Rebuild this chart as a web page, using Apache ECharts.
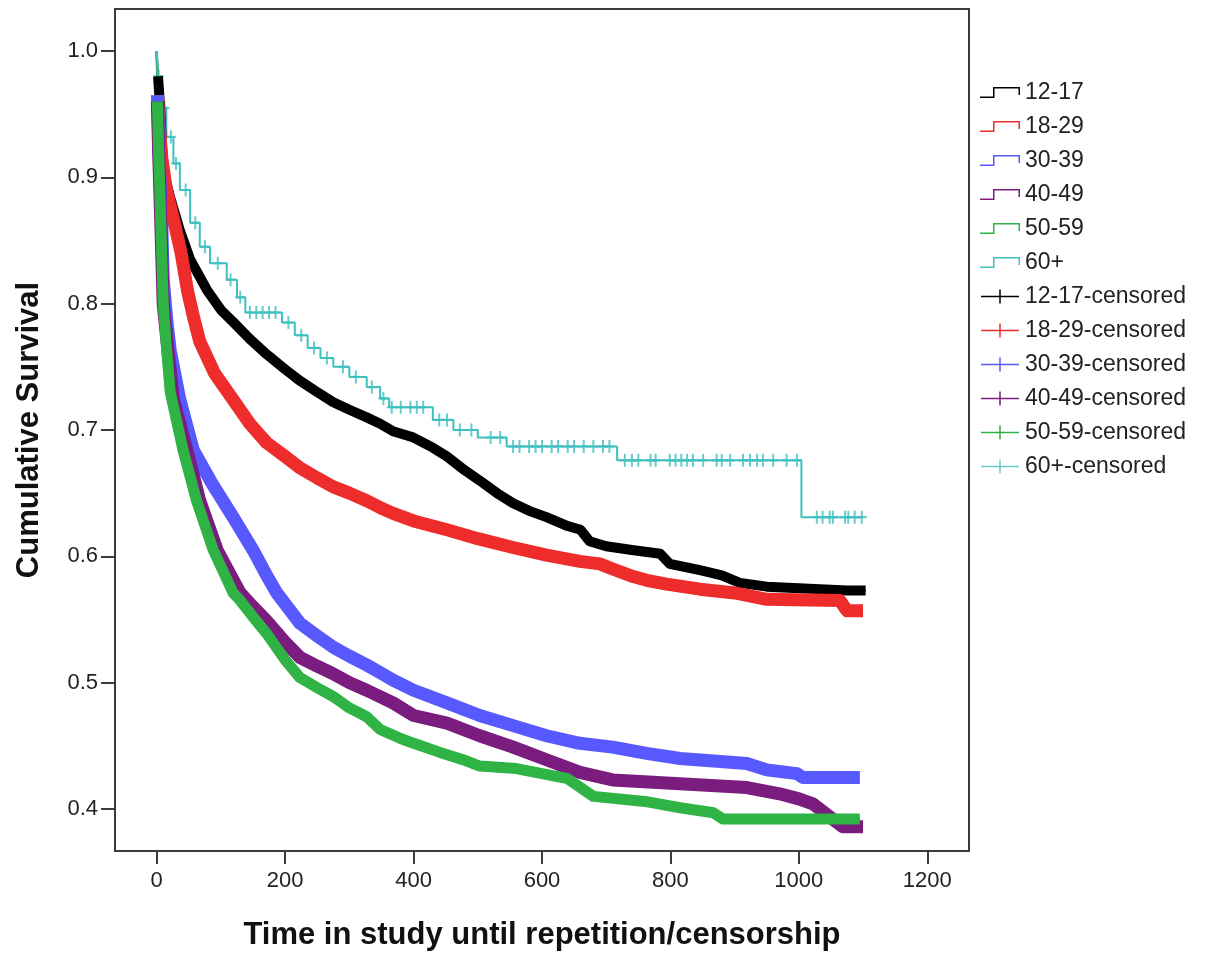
<!DOCTYPE html>
<html>
<head>
<meta charset="utf-8">
<title>Cumulative Survival</title>
<script src="https://cdn.jsdelivr.net/npm/echarts@6/dist/echarts.min.js"></script>
<style>
  html, body { margin: 0; padding: 0; background: #fff; }
  #main { width: 1206px; height: 956px; }
</style>
</head>
<body>
<div id="main"></div>
<script>
// age groups and their colours
const groups = ['12-17', '18-29', '30-39', '40-49', '50-59', '60+'];
const colors = ['#000000', '#ef2c2c', '#5858ff', '#7a1d7e', '#2fb344', '#40bfbf'];

// Kaplan-Meier curves, [time, survival]
const km1217 = [[0,1.0],[2,0.98],[6,0.95],[10,0.905],[21,0.884],[36,0.858],[52,0.835],[78,0.811],[100,0.795],[120,0.785],[145,0.772],[171,0.76],[200,0.748],[223,0.739],[250,0.73],[275,0.722],[300,0.716],[327,0.71],[348,0.705],[368,0.699],[400,0.694],[430,0.686],[452,0.679],[480,0.668],[503,0.66],[530,0.65],[555,0.642],[580,0.636],[607,0.631],[640,0.624],[660,0.621],[674,0.612],[700,0.608],[740,0.605],[784,0.602],[799,0.594],[846,0.589],[880,0.585],[908,0.579],[950,0.576],[1075,0.573],[1104,0.573]];
const km1829 = [[0,1.0],[1,0.965],[4,0.94],[8,0.915],[15,0.89],[26,0.867],[38,0.84],[48,0.81],[57,0.79],[67,0.77],[90,0.745],[119,0.724],[145,0.705],[171,0.69],[200,0.679],[223,0.67],[250,0.662],[275,0.655],[300,0.65],[327,0.644],[350,0.638],[368,0.634],[400,0.628],[452,0.621],[500,0.614],[555,0.607],[607,0.601],[659,0.596],[690,0.594],[710,0.59],[742,0.584],[763,0.581],[794,0.578],[846,0.574],[900,0.571],[950,0.566],[1064,0.565],[1075,0.557],[1100,0.557]];
const km3039 = [[0,1.0],[1,0.965],[3,0.93],[5,0.9],[8,0.86],[10,0.82],[16,0.785],[21,0.763],[36,0.724],[57,0.684],[88,0.656],[119,0.631],[150,0.605],[171,0.585],[187,0.571],[223,0.547],[250,0.537],[275,0.528],[300,0.521],[327,0.514],[348,0.508],[368,0.502],[400,0.494],[452,0.484],[503,0.474],[555,0.466],[607,0.458],[659,0.452],[710,0.449],[763,0.444],[815,0.44],[867,0.438],[919,0.436],[950,0.431],[997,0.428],[1006,0.425],[1095,0.425]];
const km4049 = [[0,1.0],[1,0.96],[3,0.92],[6,0.87],[10,0.8],[16,0.77],[26,0.724],[47,0.684],[67,0.644],[94,0.605],[130,0.571],[150,0.56],[171,0.549],[200,0.532],[223,0.52],[250,0.513],[275,0.507],[300,0.5],[327,0.494],[368,0.484],[400,0.474],[452,0.468],[503,0.458],[555,0.449],[607,0.439],[659,0.429],[710,0.423],[815,0.42],[919,0.417],[970,0.412],[1000,0.408],[1022,0.404],[1068,0.386],[1100,0.386]];
const km5059 = [[0,1.0],[1,0.96],[3,0.92],[6,0.87],[10,0.8],[16,0.76],[21,0.73],[41,0.684],[62,0.644],[88,0.605],[119,0.571],[130,0.565],[150,0.552],[171,0.539],[200,0.518],[223,0.504],[250,0.496],[275,0.489],[300,0.48],[327,0.473],[348,0.463],[379,0.456],[400,0.452],[440,0.445],[477,0.439],[503,0.434],[560,0.432],[600,0.428],[640,0.424],[680,0.41],[760,0.406],[815,0.401],[867,0.397],[882,0.392],[1095,0.392]];
const km60 = [[0,1.0],[2,0.98],[8,0.955],[15,0.932],[26,0.911],[36,0.89],[52,0.864],[67,0.845],[83,0.832],[109,0.819],[125,0.805],[138,0.793],[195,0.785],[215,0.775],[235,0.765],[255,0.757],[275,0.75],[300,0.742],[327,0.734],[348,0.725],[362,0.718],[430,0.708],[462,0.7],[500,0.694],[545,0.687],[717,0.676],[1004,0.631],[1100,0.631]];

// censored marks of the 60+ group (the other groups are so dense they form a band along the curve)
const cens60 = [[3,0.98],[12,0.955],[22,0.932],[30,0.911],[45,0.89],[60,0.864],[75,0.845],[95,0.832],[115,0.819],[130,0.805],[145,0.793],[155,0.793],[165,0.793],[175,0.793],[185,0.793],[205,0.785],[225,0.775],[245,0.765],[265,0.757],[290,0.75],[310,0.742],[335,0.734],[353,0.725],[366,0.718],[380,0.718],[395,0.718],[405,0.718],[415,0.718],[440,0.708],[452,0.708],[472,0.7],[490,0.7],[520,0.694],[535,0.694],[555,0.687],[565,0.687],[580,0.687],[590,0.687],[600,0.687],[615,0.687],[625,0.687],[640,0.687],[650,0.687],[665,0.687],[680,0.687],[695,0.687],[705,0.687],[729,0.676],[740,0.676],[750,0.676],[769,0.676],[777,0.676],[799,0.676],[808,0.676],[817,0.676],[826,0.676],[835,0.676],[851,0.676],[872,0.676],[880,0.676],[893,0.676],[913,0.676],[924,0.676],[935,0.676],[944,0.676],[960,0.676],[981,0.676],[997,0.676],[1028,0.631],[1037,0.631],[1048,0.631],[1053,0.631],[1072,0.631],[1077,0.631],[1087,0.631],[1098,0.631]];

const xTicks = [0, 200, 400, 600, 800, 1000, 1200];
const yTicks = [0.4, 0.5, 0.6, 0.7, 0.8, 0.9, 1.0];

const curves = [km1217, km1829, km3039, km4049, km5059, km60];
const bandWidth = [10, 13, 13, 13, 11, 0];

const font = 'Liberation Sans, Arial, sans-serif';
const axisColor = '#3c3c3c';
const stepIcon = 'path://M0,9.5h14.5v1.5h-14.5z M13,0h1.5v11h-1.5z M13,0h27v1.5h-27z M38.5,0h1.5v8h-1.5z';
const crossIcon = 'path://M0,6.25h38v1.5h-38z M18.25,0h1.5v14h-1.5z';
const plusSymbol = 'path://M4,0h2v12h-2z M0,5h10v2h-10z';

const series = [];
groups.forEach((g, i) => {
  const banded = bandWidth[i] > 0;
  series.push({
    name: g,
    type: 'line',
    // under a band of censor marks the steps are hidden, keep the line on the band
    step: banded ? false : 'end',
    symbol: 'none',
    data: curves[i],
    lineStyle: { color: colors[i], width: 2 },
    itemStyle: { color: colors[i] }
  });
});
groups.forEach((g, i) => {
  const name = g + '-censored';
  if (bandWidth[i] === 0) {
    series.push({
      name: name,
      type: 'scatter',
      data: cens60,
      symbol: plusSymbol,
      symbolSize: [10, 13],
      itemStyle: { color: colors[i] }
    });
  } else {
    // dense censor marks drawn as a band along the curve
    series.push({
      name: name,
      type: 'line',
      symbol: 'none',
      data: curves[i].slice(1),
      lineStyle: { color: colors[i], width: bandWidth[i], join: 'round' },
      itemStyle: { color: colors[i] }
    });
  }
});

const chart = echarts.init(document.getElementById('main'));
chart.setOption({
  animation: false,
  backgroundColor: '#fff',
  grid: {
    left: 115, right: 237, top: 9, bottom: 105,
    show: true, borderColor: axisColor, borderWidth: 2,
    outerBoundsMode: 'none'
  },
  legend: {
    orient: 'vertical',
    left: 975,
    top: 76,
    itemWidth: 40,
    itemHeight: 14,
    itemGap: 11,
    selectedMode: false,
    itemStyle: { borderWidth: 0 },
    textStyle: { fontSize: 23, color: '#222', fontFamily: font },
    data: groups.map(g => ({ name: g, icon: stepIcon }))
      .concat(groups.map(g => ({ name: g + '-censored', icon: crossIcon })))
  },
  xAxis: {
    type: 'value',
    min: -65,
    max: 1265,
    name: 'Time in study until repetition/censorship',
    nameLocation: 'middle',
    nameGap: 69,
    nameTextStyle: { fontSize: 31, fontWeight: 'bold', color: '#111', fontFamily: font },
    axisLine: { show: true, onZero: false, lineStyle: { color: axisColor, width: 2 } },
    axisTick: { show: true, length: 13, customValues: xTicks, lineStyle: { color: axisColor, width: 2 } },
    axisLabel: {
      customValues: xTicks, margin: 19, fontSize: 22, color: '#222', fontFamily: font,
      formatter: v => String(v)
    },
    splitLine: { show: false }
  },
  yAxis: {
    type: 'value',
    min: 0.36675,
    max: 1.03325,
    name: 'Cumulative Survival',
    nameLocation: 'middle',
    nameGap: 70,
    nameTextStyle: { fontSize: 31, fontWeight: 'bold', color: '#111', fontFamily: font },
    axisLine: { show: true, onZero: false, lineStyle: { color: axisColor, width: 2 } },
    axisTick: { show: true, length: 14, customValues: yTicks, lineStyle: { color: axisColor, width: 2 } },
    axisLabel: {
      customValues: yTicks, margin: 17, fontSize: 22, color: '#222', fontFamily: font,
      padding: [5, 0, 0, 0],
      formatter: v => v.toFixed(1)
    },
    splitLine: { show: false }
  },
  series: series
});
</script>
</body>
</html>
